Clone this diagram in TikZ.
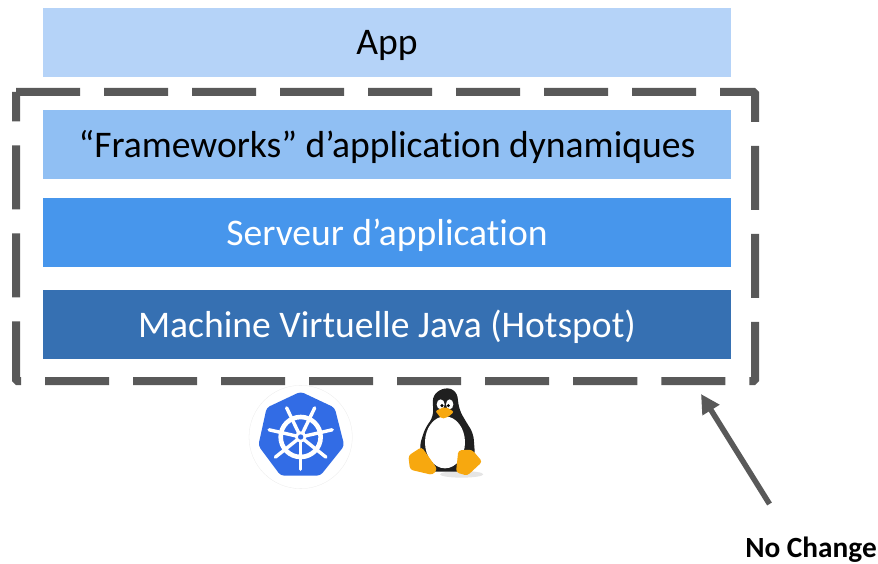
\documentclass[tikz,border=0pt]{standalone}
\usepackage{fontspec}
\setmainfont[Ligatures=CommonOff]{Carlito}
\usetikzlibrary{arrows.meta}
\definecolor{lay1}{HTML}{B5D3F8}
\definecolor{lay2}{HTML}{90BFF3}
\definecolor{lay3}{HTML}{4796EC}
\definecolor{lay4}{HTML}{3670B2}
\definecolor{dk}{HTML}{595959}
\definecolor{k8s}{HTML}{326CE5}
\definecolor{tuxo}{HTML}{F7A80F}
\pgfdeclareradialshading{belly}{\pgfpoint{0bp}{0bp}}{color(0bp)=(white); color(28bp)=(white); color(50bp)=(black!50); color(70bp)=(black!50)}
\tikzset{
 layer/.style={draw=none,minimum width=688pt,minimum height=69pt,inner sep=0pt},
 layertext/.style={inner sep=0pt,font=\fontsize{37.6}{42}\selectfont},
 spoke/.style={white,line width=3.4pt,line cap=round},
}
\begin{document}
\begin{tikzpicture}[x=1pt,y=-1pt]
\useasboundingbox (0,0) rectangle (878,564);
\node[layer,fill=lay1] (app) at (387,43) {};
\node[layertext,text=black] (appt) at (387,45.5) {App};
\node[layer,fill=lay2] (fw) at (387,144.5) {};
\node[layertext,text=black] (fwt) at (387,147) {“Frameworks” d’application dynamiques};
\node[layer,fill=lay3] (srv) at (387,232.5) {};
\node[layertext,text=white] (srvt) at (387,235) {Serveur d’application};
\node[layer,fill=lay4] (jvm) at (387,324.5) {};
\node[layertext,text=white] (jvmt) at (387,326.5) {Machine Virtuelle Java (Hotspot)};
\draw[dk,line width=8pt,dash pattern=on 64pt off 24pt,rounded corners=1.5pt] (16,92) -- (755,92) -- (755,381) -- (16,381) -- (16,92);
% Kubernetes logo
\begin{scope}[shift={(230,375)},x=0.3333pt,y=-0.3333pt]
\fill[white] (212,186) circle (155);
\draw[black!8,line width=0.3pt] (212,186) circle (155);
\fill[k8s,rounded corners=3.5pt] (212,50) -- (314,98) -- (343,212) -- (271,302) -- (152,302) -- (85,212) -- (110,98) -- cycle;
\draw[white,line width=4.6pt] (212,186) circle (60);
\fill[white] (212,186) circle (17);
\foreach \a in {90,141.43,192.86,244.29,295.71,347.14,38.57}{
 \draw[spoke] (212,186) -- ++(\a:97);
}
\fill[k8s] (212,186) circle (8);
\end{scope}
% Tux
\begin{scope}[shift={(390,375)},x=0.3333pt,y=-0.3333pt]
\fill[black!10] (215,298) ellipse (65 and 10);
\fill[black!88,rounded corners=6pt] (165,36) -- (200,48) -- (208,105) -- (225,135) -- (250,175) -- (255,240) -- (235,290) -- (110,290) -- (88,215) -- (105,160) -- (130,125) -- (128,60) -- cycle;
\shade[shading=belly] (165,202) ellipse (60 and 78);
\fill[white] (152,88) ellipse (12 and 15);
\fill[white] (179,88) ellipse (11 and 15);
\fill[black] (156,92) circle (5);
\fill[black] (175,92) circle (5);
\fill[tuxo,rounded corners=2pt] (136,108) -- (165,95) -- (192,110) -- (176,125) -- (155,132) -- cycle;
\fill[tuxo,rounded corners=3pt] (55,242) -- (95,216) -- (142,282) -- (128,300) -- (60,284) -- cycle;
\fill[tuxo,rounded corners=3pt] (205,226) -- (246,224) -- (277,260) -- (232,302) -- (198,292) -- cycle;
\end{scope}
\coordinate (tail) at (769.5,504);
\coordinate (tip) at (701,394);
\node[font=\bfseries\fontsize{29.3}{32}\selectfont,text=black,inner sep=0pt] (nc) at (811,549.5) {No Change};
\draw[dk,line width=5.5pt,-{Triangle[length=19pt,width=19pt]}] (tail) -- (tip);
\end{tikzpicture}
\end{document}
